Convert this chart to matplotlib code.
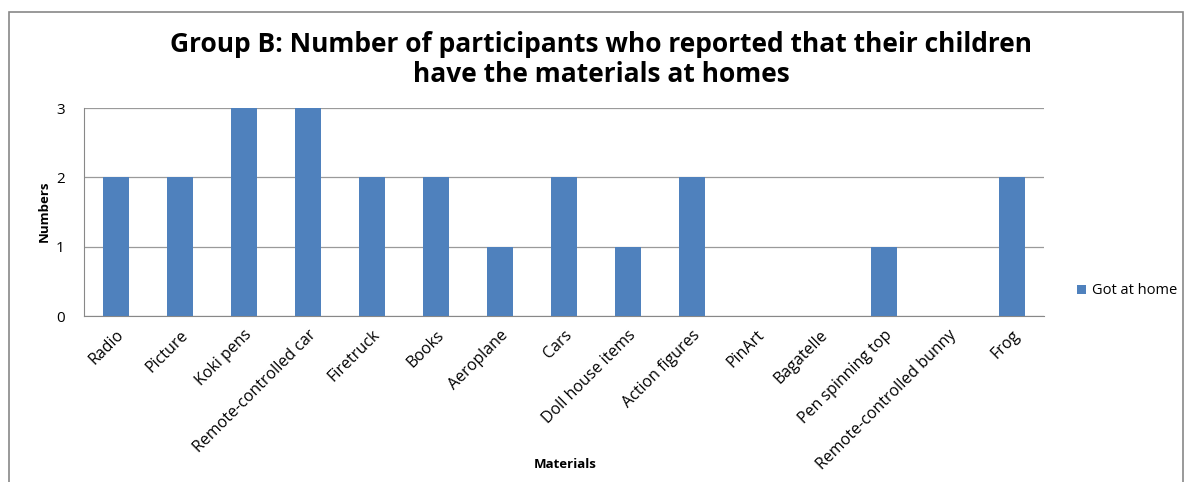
import matplotlib
matplotlib.use("Agg")
import matplotlib.pyplot as plt
from matplotlib.patches import Rectangle

# ===== DATA =====
materials = ["Radio", "Picture", "Koki pens", "Remote-controlled car", "Firetruck",
             "Books", "Aeroplane", "Cars", "Doll house items", "Action figures",
             "PinArt", "Bagatelle", "Pen spinning top", "Remote-controlled bunny", "Frog"]
got_at_home = [2, 2, 3, 3, 2, 2, 1, 2, 1, 2, 0, 0, 1, 0, 2]
y_ticks = [0, 1, 2, 3]

BAR_COLOR = "#4F81BD"
FONT = ["Open Sans", "DejaVu Sans"]

# ===== FIGURE =====
fig = plt.figure(figsize=(11.88, 4.82), dpi=100)
W, H = 1188, 482

# chart border (open at the bottom)
fig.add_artist(Rectangle((9 / W, -0.01), (1183 - 9) / W, (482 - 12) / H + 0.01,
                         transform=fig.transFigure, fill=False,
                         edgecolor="#888888", linewidth=1.2))

ax = fig.add_axes([84 / W, 1 - 316 / H, (1044 - 84) / W, (316 - 108) / H])

x = range(len(materials))
ax.bar(x, got_at_home, width=0.4, color=BAR_COLOR, label="Got at home", zorder=3)

ax.set_xlim(-0.5, len(materials) - 0.5)
ax.set_ylim(0, 3)
ax.set_yticks(y_ticks)
ax.set_yticklabels([str(t) for t in y_ticks], family=FONT, fontsize=11)
ax.grid(axis="y", color="#9a9a9a", linewidth=0.9, zorder=0)

ax.set_xticks(list(x))
ax.set_xticklabels(materials, rotation=45, ha="right", rotation_mode="anchor",
                   family=FONT, fontsize=11.5)
ax.tick_params(axis="y", length=0, pad=14)
ax.tick_params(axis="x", length=0, pad=8)

for s in ["top", "right"]:
    ax.spines[s].set_visible(False)
ax.spines["left"].set_color("#888888")
ax.spines["bottom"].set_color("#888888")

# ===== TEXT =====
fig.text(601 / W, 1 - 44 / H, "Group B: Number of participants who reported that their children",
         ha="center", va="center", family=FONT, fontsize=19, fontweight="bold")
fig.text(601 / W, 1 - 74 / H, "have the materials at homes",
         ha="center", va="center", family=FONT, fontsize=19, fontweight="bold")
fig.text(44 / W, 1 - 211 / H, "Numbers", rotation=90, ha="center", va="center",
         family=FONT, fontsize=9.5, fontweight="bold")
fig.text(565 / W, 1 - 464 / H, "Materials", ha="center", va="center",
         family=FONT, fontsize=9.5, fontweight="bold")

leg = ax.legend(loc="center left", bbox_to_anchor=(1064 / W, 1 - 291 / H),
                bbox_transform=fig.transFigure, frameon=False,
                prop={"family": FONT, "size": 10.5}, handlelength=0.6,
                handleheight=0.6, handletextpad=0.4)

fig.savefig("out.png", dpi=100)
